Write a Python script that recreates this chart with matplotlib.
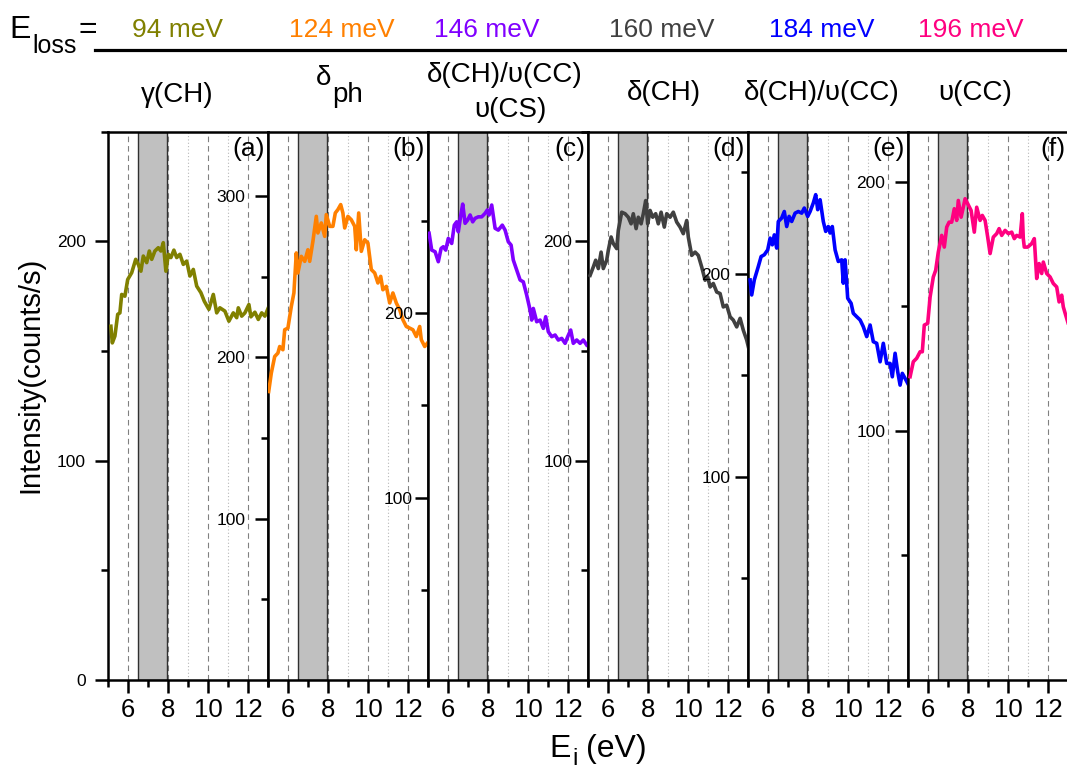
import matplotlib
matplotlib.use("Agg")
import matplotlib.pyplot as plt
from matplotlib.lines import Line2D
from matplotlib.ticker import FixedLocator

plt.rcParams["font.family"] = ["Liberation Sans", "DejaVu Sans"]

W, H = 1067, 768

# Data -----------------------------------------------------------------------
loss_labels = ["94 meV", "124 meV", "146 meV", "160 meV", "184 meV", "196 meV"]
loss_colors = ["#808000", "#FF8000", "#8000FF", "#404040", "#0000FF", "#FF0080"]
panel_tags = ["(a)", "(b)", "(c)", "(d)", "(e)", "(f)"]

ei_94 = [5.13, 5.2, 5.33, 5.47, 5.58, 5.67, 5.83, 5.97, 6.17, 6.37, 6.5, 6.63,
         6.75, 6.92, 7.05, 7.17, 7.33, 7.5, 7.63, 7.75, 7.88, 8.0, 8.13, 8.28,
         8.42, 8.58, 8.75, 8.92, 9.08, 9.25, 9.42, 9.63, 9.8, 10.03, 10.25,
         10.42, 10.58, 10.83, 11.03, 11.25, 11.42, 11.5, 11.67, 11.83, 12.03,
         12.13, 12.33, 12.5, 12.67, 12.83, 13.0]
cps_94 = [161.3, 153.7, 156.8, 166.7, 167.4, 175.8, 175.0, 182.6, 185.7, 191.8,
          189.5, 186.4, 193.3, 190.3, 195.6, 191.8, 195.6, 197.1, 195.6, 199.4,
          186.4, 194.1, 192.6, 196.0, 192.6, 194.1, 189.5, 191.0, 184.2, 187.2,
          179.6, 176.6, 172.7, 169.0, 175.8, 167.4, 169.7, 168.2, 163.6, 167.4,
          165.2, 169.7, 165.9, 167.4, 171.2, 165.6, 167.7, 164.4, 167.4, 165.9,
          169.7]

ei_124 = [5.02, 5.15, 5.32, 5.48, 5.57, 5.73, 5.82, 5.98, 6.15, 6.28, 6.4, 6.48,
          6.65, 6.82, 6.98, 7.07, 7.23, 7.4, 7.48, 7.65, 7.82, 7.9, 8.07, 8.23,
          8.35, 8.48, 8.62, 8.73, 8.82, 8.98, 9.15, 9.32, 9.4, 9.52, 9.65, 9.82,
          9.98, 10.15, 10.32, 10.48, 10.62, 10.73, 10.9, 11.07, 11.23, 11.4,
          11.57, 11.73, 11.9, 12.07, 12.23, 12.4, 12.57, 12.65, 12.82, 12.97]
cps_124 = [178.9, 190.3, 200.6, 202.7, 206.8, 204.8, 217.2, 218.2, 231.6, 240.0,
           264.8, 252.4, 262.7, 259.6, 266.8, 259.6, 272.0, 287.5, 277.2, 283.4,
           275.1, 288.6, 281.3, 281.3, 289.6, 291.7, 294.8, 289.6, 280.3, 287.5,
           285.4, 281.3, 266.8, 289.6, 265.8, 273.0, 271.0, 254.5, 252.4, 246.2,
           250.3, 242.0, 244.1, 233.8, 240.0, 233.8, 229.6, 223.4, 219.2, 218.2,
           217.2, 213.0, 219.2, 211.0, 206.8, 209.1]

ei_146 = [5.04, 5.17, 5.34, 5.5, 5.64, 5.75, 5.87, 6.0, 6.17, 6.3, 6.42, 6.5,
          6.64, 6.72, 6.84, 6.97, 7.09, 7.22, 7.34, 7.5, 7.67, 7.84, 7.95, 8.04,
          8.17, 8.34, 8.5, 8.7, 8.84, 9.0, 9.14, 9.25, 9.42, 9.59, 9.75, 9.92,
          10.09, 10.17, 10.25, 10.42, 10.59, 10.75, 10.87, 11.0, 11.17, 11.34,
          11.5, 11.67, 11.84, 11.97, 12.12, 12.25, 12.42, 12.59, 12.75, 12.92]
cps_146 = [243.2, 234.1, 233.2, 227.8, 235.0, 235.9, 234.1, 240.4, 237.7, 247.6,
           249.4, 244.0, 254.0, 259.0, 248.6, 250.4, 253.1, 249.4, 251.3, 252.1,
           252.1, 254.0, 255.8, 253.1, 258.5, 245.9, 244.9, 247.6, 244.9, 238.6,
           236.8, 228.7, 223.3, 217.9, 216.9, 209.7, 201.6, 196.2, 202.5, 195.3,
           196.2, 191.7, 198.0, 189.9, 187.2, 188.1, 185.4, 186.3, 183.6, 187.2,
           190.8, 183.6, 185.4, 183.6, 185.4, 182.7]

ei_160 = [5.09, 5.25, 5.37, 5.5, 5.64, 5.75, 5.92, 6.0, 6.14, 6.25, 6.42, 6.5,
          6.67, 6.84, 7.0, 7.14, 7.25, 7.39, 7.5, 7.64, 7.75, 7.87, 7.97, 8.09,
          8.22, 8.37, 8.5, 8.64, 8.8, 8.92, 9.09, 9.25, 9.42, 9.59, 9.75, 9.92,
          10.0, 10.17, 10.34, 10.5, 10.67, 10.84, 10.97, 11.09, 11.25, 11.42,
          11.59, 11.75, 11.92, 12.09, 12.25, 12.42, 12.59, 12.75, 12.92, 13.0]
cps_160 = [184.5, 188.3, 191.4, 187.6, 195.1, 187.6, 191.4, 195.9, 202.0, 199.0,
           196.7, 205.0, 213.3, 212.6, 211.0, 208.0, 212.6, 205.8, 211.0, 208.0,
           212.6, 218.6, 208.0, 214.1, 211.0, 212.6, 208.0, 213.3, 206.5, 212.6,
           211.0, 213.3, 208.8, 206.5, 203.5, 209.5, 202.0, 193.6, 195.1, 193.6,
           188.3, 182.3, 183.8, 179.2, 180.8, 176.9, 176.2, 170.1, 170.9, 165.6,
           164.1, 161.0, 164.9, 159.5, 155.0, 152.0]

ei_184 = [5.09, 5.17, 5.3, 5.5, 5.64, 5.8, 5.97, 6.09, 6.2, 6.3, 6.42, 6.5, 6.67,
          6.8, 6.92, 7.04, 7.17, 7.34, 7.5, 7.67, 7.8, 7.97, 8.09, 8.25, 8.37,
          8.47, 8.59, 8.75, 8.87, 9.0, 9.09, 9.2, 9.34, 9.5, 9.67, 9.75, 9.84,
          9.97, 10.14, 10.25, 10.42, 10.59, 10.75, 10.92, 11.09, 11.25, 11.42,
          11.59, 11.75, 11.92, 12.09, 12.2, 12.34, 12.47, 12.59, 12.7, 12.84,
          12.97]
cps_184 = [197.0, 189.6, 197.0, 203.6, 208.5, 209.4, 211.8, 217.6, 214.3, 219.2,
           212.7, 225.8, 227.5, 230.7, 223.3, 228.3, 225.8, 229.9, 230.7, 229.9,
           232.4, 228.3, 230.7, 234.9, 239.0, 231.6, 236.5, 225.8, 220.9, 223.3,
           220.1, 223.3, 211.8, 206.1, 206.9, 195.4, 206.9, 188.0, 185.5, 180.6,
           178.9, 177.3, 174.0, 169.1, 174.8, 166.6, 165.8, 156.7, 165.8, 155.9,
           155.9, 149.3, 160.9, 151.8, 145.2, 151.0, 148.5, 146.1]

ei_196 = [5.09, 5.25, 5.42, 5.59, 5.7, 5.8, 5.97, 6.09, 6.25, 6.37, 6.5, 6.67,
          6.8, 6.92, 7.04, 7.17, 7.3, 7.42, 7.5, 7.64, 7.75, 7.84, 7.97, 8.14,
          8.3, 8.42, 8.59, 8.7, 8.84, 8.97, 9.09, 9.25, 9.42, 9.54, 9.67, 9.84,
          10.0, 10.17, 10.3, 10.42, 10.59, 10.7, 10.75, 10.8, 10.97, 11.17, 11.3,
          11.42, 11.54, 11.67, 11.75, 11.92, 12.09, 12.25, 12.42, 12.54, 12.67,
          12.75, 12.87, 12.99]
cps_196 = [121.7, 127.7, 129.1, 131.7, 131.7, 142.4, 143.1, 153.7, 161.7, 164.4,
           171.7, 178.4, 173.7, 181.7, 183.7, 183.7, 189.1, 184.4, 192.4, 185.7,
           189.7, 193.1, 191.1, 188.4, 179.7, 189.7, 184.4, 186.4, 184.4, 177.7,
           171.1, 177.7, 179.1, 181.1, 178.4, 180.4, 179.1, 179.7, 177.1, 178.4,
           177.7, 187.1, 177.1, 173.7, 173.7, 175.1, 177.1, 161.1, 167.1, 163.1,
           167.7, 163.1, 161.7, 159.1, 157.7, 151.7, 154.4, 149.7, 146.4, 143.2]

series_x = [ei_94, ei_124, ei_146, ei_160, ei_184, ei_196]
series_y = [cps_94, cps_124, cps_146, cps_160, cps_184, cps_196]

# per-panel y ranges and tick values
y_limits = [(0, 250), (0, 340), (1.3, 298.2), (0, 250), (0, 270), (0, 220)]
y_major = [[0, 100, 200], [100, 200, 300], [100, 200], [100, 200], [100, 200],
           [100, 200]]
y_minor = [[50, 150, 250], [50, 150, 250], [50, 150, 250], [50, 150, 250],
           [50, 150, 250], [50, 150]]
y_label_pad = [6.5, 7.0, 1.5, 2.0, 3.5, 7.0]

band_lo, band_hi = 6.5, 7.95

# Figure ----------------------------------------------------------------------
fig = plt.figure(figsize=(W / 100, H / 100), dpi=100)


def fx(px):
    return px / W


def fy(py):
    return 1 - py / H


axes = []
for i in range(6):
    left = 108.3 + i * 160
    ax = fig.add_axes([fx(left), fy(680), 160 / W, 548.3 / H])
    axes.append(ax)
    ax.set_axisbelow(True)
    ax.set_xlim(5, 13)
    ax.set_ylim(*y_limits[i])
    ax.xaxis.set_major_locator(FixedLocator([6, 8, 10, 12]))
    ax.xaxis.set_minor_locator(FixedLocator([5, 7, 9, 11, 13]))
    ax.yaxis.set_major_locator(FixedLocator(y_major[i]))
    ax.yaxis.set_minor_locator(FixedLocator(y_minor[i]))
    ax.yaxis.set_ticks_position("left")
    ax.xaxis.set_ticks_position("bottom")
    ax.tick_params(which="major", direction="out", length=9.5, width=1.8,
                   color="black")
    ax.tick_params(which="minor", direction="out", length=5, width=1.8)
    ax.tick_params(axis="x", labelsize=18.5, pad=3.5)
    ax.tick_params(axis="y", labelsize=12.5, pad=y_label_pad[i])
    for side in ax.spines.values():
        side.set_linewidth(1.8)

    ax.grid(True, axis="x", which="major", color="#808080", lw=0.8,
            ls=(0, (5, 3.5)))
    ax.grid(True, axis="x", which="minor", color="#b8b8b8", lw=0.8,
            ls=(0, (1, 2)))

    ax.axvspan(band_lo, band_hi, facecolor="#c0c0c0", edgecolor="#303030",
               lw=1.0, zorder=2)
    ax.plot(series_x[i], series_y[i], color=loss_colors[i], lw=2.6, zorder=3)
    ax.text(0.98, 0.99, panel_tags[i], transform=ax.transAxes, ha="right",
            va="top", fontsize=19, zorder=4)

# Axis titles
fig.text(fx(30), fy(375), "Intensity(counts/s)", rotation=90, ha="center",
         va="center", fontsize=21)
fig.text(fx(549), fy(757), "E", ha="left", va="baseline", fontsize=23)
fig.text(fx(572), fy(765), "i", ha="left", va="baseline", fontsize=17)
fig.text(fx(586), fy(757), "(eV)", ha="left", va="baseline", fontsize=23)

# Header: E_loss = ... with coloured energies
fig.text(fx(9), fy(38), "E", ha="left", va="baseline", fontsize=23)
fig.text(fx(32), fy(53), "loss", ha="left", va="baseline", fontsize=18)
fig.text(fx(79), fy(38), "=", ha="left", va="baseline", fontsize=23)
fig.add_artist(Line2D([fx(95), fx(1067)], [fy(50), fy(50)], color="black",
                      lw=2.3, transform=fig.transFigure))

loss_x = [178, 342, 487, 662, 822, 971]
for xc, lab, col in zip(loss_x, loss_labels, loss_colors):
    fig.text(fx(xc), fy(37), lab, color=col, ha="center", va="baseline",
             fontsize=19)

# Vibrational assignments
fig.text(fx(177), fy(102), "\u03b3(CH)", ha="center", va="baseline",
         fontsize=20)
fig.text(fx(316), fy(85), "\u03b4", ha="left", va="baseline", fontsize=20)
fig.text(fx(332), fy(102), "ph", ha="left", va="baseline", fontsize=20)
fig.text(fx(505), fy(82), "\u03b4(CH)/\u03c5(CC)", ha="center", va="baseline",
         fontsize=20)
fig.text(fx(510), fy(117), "\u03c5(CS)", ha="center", va="baseline",
         fontsize=20)
fig.text(fx(664), fy(100), "\u03b4(CH)", ha="center", va="baseline",
         fontsize=20)
fig.text(fx(822), fy(100), "\u03b4(CH)/\u03c5(CC)", ha="center", va="baseline",
         fontsize=20)
fig.text(fx(975), fy(100), "\u03c5(CC)", ha="center", va="baseline",
         fontsize=20)

fig.savefig("out.png", dpi=100)
